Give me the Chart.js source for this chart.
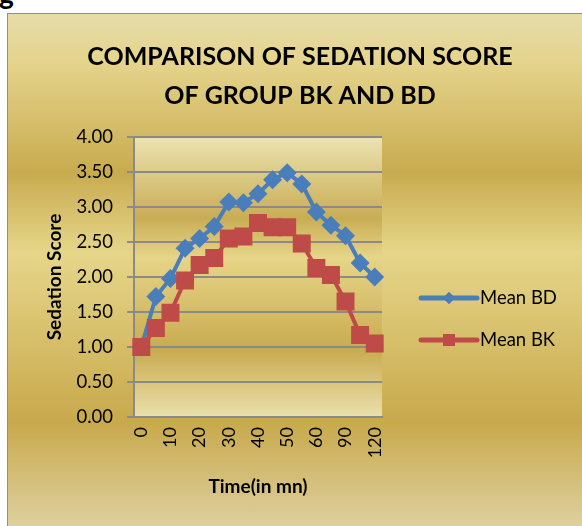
<!DOCTYPE html>
<html>
<head>
<meta charset="utf-8">
<script src="https://cdn.jsdelivr.net/npm/chart.js@4.4.1/dist/chart.umd.min.js"></script>
<style>
  body { margin: 0; background: #ffffff; overflow: hidden; width: 582px; height: 526px; position: relative; }
  #fig { position: absolute; left: -1px; top: -24px; font: bold 28px Lato, sans-serif; color: #000; }
  #caja {
    position: absolute; left: 7px; top: 13px; width: 584px; height: 530px;
    border: 1px solid #8e8e8e;
    background: linear-gradient(to bottom, #e6dcaa 0%, #e5d48c 9%, #c8ab4f 30%, #e6d68a 45%, #c8a94c 77%, #ded1a0 97%);
  }
</style>
</head>
<body>
<div id="fig">g</div>
<div id="caja"><canvas id="graficoSedacion" width="584" height="530"></canvas></div>
<script>
// Tiempo en minutos (categorías del eje X)
const tiempos = ['0', '5', '10', '15', '20', '25', '30', '35', '40', '45', '50', '55', '60', '75', '90', '105', '120'];
// Puntaje medio de sedación por grupo
const meanBD = [1.00, 1.72, 1.98, 2.41, 2.55, 2.72, 3.07, 3.06, 3.19, 3.39, 3.49, 3.33, 2.93, 2.74, 2.59, 2.20, 2.00];
const meanBK = [1.00, 1.27, 1.49, 1.95, 2.17, 2.27, 2.55, 2.58, 2.77, 2.71, 2.71, 2.48, 2.13, 2.03, 1.65, 1.17, 1.05];
// Etiquetas del eje Y
const ticksY = [0, 0.5, 1, 1.5, 2, 2.5, 3, 3.5, 4];

const fuente = 'Lato, "Noto Sans", sans-serif';
const azul = '#4a7ebb';
const rojo = '#be4b48';

// Fondo degradado del área de trazado
const fondoArea = {
    id: 'fondoArea',
    beforeDraw(chart) {
        const { ctx, chartArea: a } = chart;
        const g = ctx.createLinearGradient(0, a.top, 0, a.bottom);
        g.addColorStop(0, '#ebe3b0');
        g.addColorStop(0.29, '#c9ad55');
        g.addColorStop(0.43, '#e6d588');
        g.addColorStop(0.76, '#c9ab50');
        g.addColorStop(1, '#ebe0ab');
        ctx.save();
        ctx.fillStyle = g;
        ctx.fillRect(a.left, a.top, a.right - a.left, a.bottom - a.top);
        ctx.restore();
    }
};

// Leyenda al estilo de Excel: línea con marcador en el medio
const leyenda = {
    id: 'leyenda',
    afterDraw(chart) {
        const ctx = chart.ctx;
        const x0 = 413, x1 = 469, ys = [284, 326];
        chart.data.datasets.forEach((ds, i) => {
            const y = ys[i];
            ctx.save();
            ctx.strokeStyle = ds.borderColor;
            ctx.lineWidth = 5;
            ctx.lineCap = 'round';
            ctx.beginPath();
            ctx.moveTo(x0, y);
            ctx.lineTo(x1, y);
            ctx.stroke();
            ctx.fillStyle = ds.borderColor;
            if (ds.pointStyle === 'rectRot') {
                Chart.helpers.drawPoint(ctx, { pointStyle: 'rectRot', radius: 6, borderWidth: 0 }, (x0 + x1) / 2, y);
                ctx.fill();
            } else {
                ctx.fillRect((x0 + x1) / 2 - 6, y - 6, 12, 12);
            }
            ctx.fillStyle = '#000';
            ctx.font = '18.5px ' + fuente;
            ctx.textBaseline = 'middle';
            ctx.fillText(ds.label, x1 + 3, y);
            ctx.restore();
        });
    }
};

const config = {
    type: 'line',
    data: {
        labels: tiempos,
        datasets: [
            {
                label: 'Mean BD',
                data: meanBD,
                borderColor: azul,
                backgroundColor: azul,
                borderWidth: 4,
                pointStyle: 'rectRot',
                pointRadius: 9.5,
                pointBorderWidth: 0,
                tension: 0,
                order: 2 // debajo de la serie BK
            },
            {
                label: 'Mean BK',
                data: meanBK,
                borderColor: rojo,
                backgroundColor: rojo,
                borderWidth: 4,
                pointStyle: 'rect',
                pointRadius: 12.7,
                pointBorderWidth: 0,
                tension: 0,
                order: 1
            }
        ]
    },
    options: {
        responsive: false,
        animation: false,
        layout: { padding: 0 },
        plugins: {
            legend: { display: false },
            tooltip: { enabled: false },
            title: {
                display: true,
                text: ['COMPARISON OF SEDATION SCORE', 'OF GROUP BK AND BD'],
                color: '#000',
                font: { family: fuente, size: 25, weight: 'bold', lineHeight: 1.56 },
                padding: { top: 23.5, bottom: 21.5 }
            }
        },
        scales: {
            x: {
                offset: true,
                afterFit: (s) => { s.height = 127; },
                grid: { display: false, drawTicks: false },
                border: { color: '#8a8a8a', width: 2 },
                ticks: {
                    autoSkip: false,
                    minRotation: 90,
                    maxRotation: 90,
                    padding: 10,
                    color: '#000',
                    font: { family: fuente, size: 18 },
                    callback: (v, i) => (i % 2 === 0 ? tiempos[i] : '')
                },
                title: {
                    display: true,
                    text: 'Time(in mn)',
                    color: '#000',
                    font: { family: fuente, size: 19, weight: 'bold', lineHeight: 1.2 },
                    padding: { top: 0, bottom: 45.6 }
                }
            },
            y: {
                min: 0,
                max: 4,
                afterFit: (s) => { s.width = 126; },
                afterBuildTicks: (s) => { s.ticks = ticksY.map(v => ({ value: v })); },
                grid: { color: '#8a8a8a', lineWidth: 2, tickLength: 7 },
                border: { color: '#8a8a8a', width: 2 },
                ticks: {
                    padding: 14,
                    color: '#000',
                    font: { family: fuente, size: 18.5 },
                    callback: (v) => v.toFixed(2)
                },
                title: {
                    display: true,
                    text: 'Sedation Score',
                    color: '#000',
                    font: { family: fuente, size: 19, weight: 'bold', lineHeight: 1.2 },
                    padding: { top: 35.6, bottom: 0 }
                }
            },
            // Eje vacío a la derecha: reserva el espacio de la leyenda
            reserva: {
                type: 'linear',
                position: 'right',
                afterFit: (s) => { s.width = 210; },
                grid: { display: false, drawTicks: false },
                border: { display: false },
                ticks: { display: false }
            }
        }
    },
    plugins: [fondoArea, leyenda]
};

new Chart(document.getElementById('graficoSedacion'), config);
</script>
</body>
</html>
